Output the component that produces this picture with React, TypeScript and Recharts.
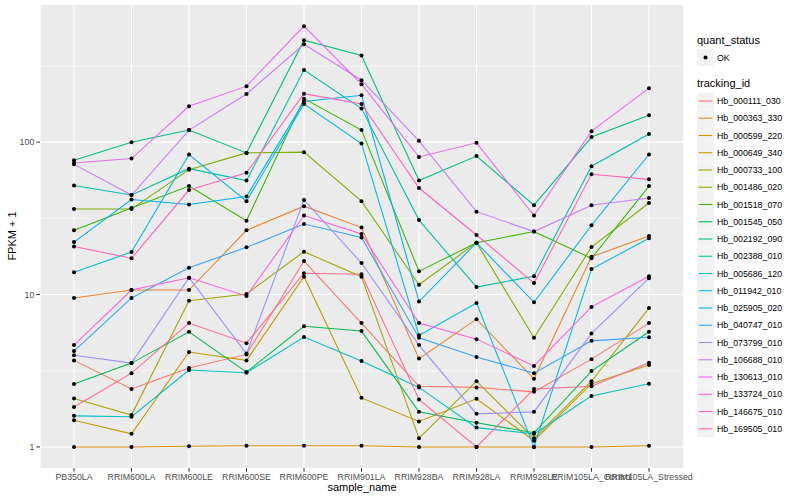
import { LineChart, Line, XAxis, YAxis, CartesianGrid, ReferenceLine } from "recharts";

const samples = [
  "PB350LA",
  "RRIM600LA",
  "RRIM600LE",
  "RRIM600SE",
  "RRIM600PE",
  "RRIM901LA",
  "RRIM928BA",
  "RRIM928LA",
  "RRIM928LE",
  "RRIM105LA_Control",
  "RRIM105LA_Stressed",
];

const trackingIds = [
  "Hb_000111_030",
  "Hb_000363_330",
  "Hb_000599_220",
  "Hb_000649_340",
  "Hb_000733_100",
  "Hb_001486_020",
  "Hb_001518_070",
  "Hb_001545_050",
  "Hb_002192_090",
  "Hb_002388_010",
  "Hb_005686_120",
  "Hb_011942_010",
  "Hb_025905_020",
  "Hb_040747_010",
  "Hb_073799_010",
  "Hb_106688_010",
  "Hb_130613_010",
  "Hb_133724_010",
  "Hb_146675_010",
  "Hb_169505_010",
];

// ggplot hue palette, 20 levels
const colors = [
  "#F8766D", "#EA8331", "#D89000", "#C09B00", "#A3A500",
  "#7CAE00", "#39B600", "#00BB4E", "#00BF7D", "#00C1A3",
  "#00BFC4", "#00BAE0", "#00B0F6", "#35A2FF", "#9590FF",
  "#C77CFF", "#E76BF3", "#FA62DB", "#FF62BC", "#FF6C91",
];

// FPKM + 1, one value per sample
const hb000111 = [3.7, 2.4, 3.3, 4.05, 16.6, 6.5, 2.5, 2.46, 2.3, 3.77, 6.5];
const hb000363 = [9.5, 10.7, 10.7, 26.4, 38, 27.5, 3.8, 6.9, 2.8, 17.7, 24.2];
const hb000599 = [1.0, 1.0, 1.01, 1.02, 1.02, 1.02, 1.0, 1.0, 1.0, 1.0, 1.02];
const hb000649 = [1.5, 1.22, 4.2, 3.7, 13.1, 2.1, 1.47, 2.07, 1.1, 2.6, 3.45];
const hb000733 = [2.08, 1.62, 9.1, 10.1, 19.1, 13.1, 1.14, 2.7, 1.14, 2.7, 8.15];
const hb001486 = [36.4, 36.4, 66, 85, 86, 41, 11.6, 21.9, 5.2, 20.5, 39.9];
const hb001518 = [26.4, 37, 51.5, 30.5, 193, 120, 14.2, 21.9, 25.9, 17.3, 51.5];
const hb001545 = [2.59, 3.55, 5.7, 3.1, 6.2, 5.76, 1.7, 1.44, 1.24, 3.15, 5.7];
const hb002192 = [76, 100, 120, 85, 467, 370, 56, 81, 38.6, 108, 150];
const hb002388 = [52, 45, 67, 56, 297, 166, 30.8, 11.2, 13.2, 69.5, 113];
const hb005686 = [1.6, 1.58, 3.2, 3.07, 5.26, 3.66, 2.46, 1.34, 1.22, 2.16, 2.6];
const hb011942 = [14.0, 19, 83, 41, 178, 98, 5.4, 8.8, 1.0, 14.7, 23.4];
const hb025905 = [22.1, 42, 39, 44, 185, 203, 9.0, 21.9, 8.9, 28.5, 83];
const hb040747 = [4.26, 9.5, 15, 20.4, 29, 23.7, 5.2, 3.9, 3.05, 4.97, 5.25];
const hb073799 = [4.0, 3.55, 12.9, 4.1, 41.8, 16.1, 4.66, 1.65, 1.7, 5.56, 12.8];
const hb106688 = [71.5, 45, 120, 207, 439, 255, 102, 35, 25.9, 38.6, 43];
const hb130613 = [73, 78, 172, 233, 577, 240, 80, 99, 33, 118, 226];
const hb133724 = [4.66, 10.7, 12.9, 9.8, 33, 25, 6.5, 5.1, 3.4, 8.3, 13.2];
const hb146675 = [20.7, 17.3, 48.5, 63, 208, 178, 50, 24.6, 11.9, 61.5, 57];
const hb169505 = [1.83, 3.05, 6.5, 4.8, 13.8, 13.6, 2.05, 1.0, 2.4, 2.5, 3.57];

const seriesValues = [
  hb000111, hb000363, hb000599, hb000649, hb000733,
  hb001486, hb001518, hb001545, hb002192, hb002388,
  hb005686, hb011942, hb025905, hb040747, hb073799,
  hb106688, hb130613, hb133724, hb146675, hb169505,
];

const majorTicks = [1, 10, 100];
const minorTicks = [3.162, 31.62, 316.2];

const data = samples.map((s, i) => {
  const row: Record<string, string | number> = { sample: s };
  trackingIds.forEach((id, k) => {
    row[id] = seriesValues[k][i];
  });
  return row;
});

const font = "'Liberation Sans', Arial, Helvetica, sans-serif";
const axisText = { fontSize: 8.8, fill: "#4D4D4D", fontFamily: font };

// legend drawn as its own svg, right of the panel
function LegendPanel() {
  const step = 17.25;
  const top = 92.5;
  return (
    <svg
      width={110}
      height={460}
      style={{ position: "absolute", left: 690, top: 0, fontFamily: font }}
    >
      <text x={7} y={44} fontSize={11} fill="#000">quant_status</text>
      <rect x={7} y={49} width={17} height={17} fill="#F2F2F2" />
      <circle cx={15.5} cy={57.5} r={2} fill="#000" />
      <text x={27} y={60.5} fontSize={8.8} fill="#000">OK</text>
      <text x={7} y={87} fontSize={11} fill="#000">tracking_id</text>
      {trackingIds.map((id, k) => {
        const y = top + k * step;
        return (
          <g key={id}>
            <rect x={7} y={y} width={17} height={17} fill="#F2F2F2" />
            <line x1={8.7} x2={22.3} y1={y + 8.5} y2={y + 8.5} stroke={colors[k]} strokeWidth={1.1} />
            <text x={27} y={y + 11.7} fontSize={8.8} fill="#000">{id}</text>
          </g>
        );
      })}
    </svg>
  );
}

export default function App() {
  return (
    <div style={{ position: "absolute", left: 0, top: 0, width: 800, height: 500, background: "#fff" }}>
      <LineChart width={800} height={500} data={data} margin={{ top: 5, right: 116, bottom: 0, left: 0 }}>
        <CartesianGrid horizontal={false} stroke="#FFFFFF" strokeWidth={1.1} fill="#EBEBEB" />
        {minorTicks.map((v) => (
          <ReferenceLine key={`mi-${v}`} y={v} stroke="#FFFFFF" strokeWidth={0.55} />
        ))}
        {majorTicks.map((v) => (
          <ReferenceLine key={`ma-${v}`} y={v} stroke="#FFFFFF" strokeWidth={1.1} />
        ))}
        <XAxis
          dataKey="sample"
          type="category"
          interval={0}
          height={32}
          padding={{ left: 34, right: 35 }}
          axisLine={false}
          tickSize={3.7}
          tickMargin={2.5}
          tickLine={{ stroke: "#333333" }}
          tick={axisText}
        />
        <YAxis
          type="number"
          scale="log"
          domain={[0.728, 794]}
          allowDataOverflow
          ticks={majorTicks}
          width={40}
          axisLine={false}
          tickSize={3.7}
          tickMargin={2}
          tickLine={{ stroke: "#333333" }}
          tick={axisText}
        />
        {trackingIds.map((id, k) => (
          <Line
            key={id}
            type="linear"
            dataKey={id}
            stroke={colors[k]}
            strokeWidth={1.07}
            dot={false}
            activeDot={false}
            isAnimationActive={false}
          />
        ))}
        {trackingIds.map((id) => (
          <Line
            key={`pt-${id}`}
            type="linear"
            dataKey={id}
            stroke="none"
            dot={{ r: 2, fill: "#000000", stroke: "none" }}
            activeDot={false}
            legendType="none"
            isAnimationActive={false}
          />
        ))}
      </LineChart>
      <div
        style={{
          position: "absolute",
          left: 362,
          top: 481,
          transform: "translateX(-50%)",
          fontFamily: font,
          fontSize: 11,
          whiteSpace: "nowrap",
        }}
      >
        sample_name
      </div>
      <div
        style={{
          position: "absolute",
          left: 12,
          top: 236,
          transform: "translate(-50%, -50%) rotate(-90deg)",
          fontFamily: font,
          fontSize: 11,
          whiteSpace: "nowrap",
        }}
      >
        FPKM + 1
      </div>
      <LegendPanel />
    </div>
  );
}
